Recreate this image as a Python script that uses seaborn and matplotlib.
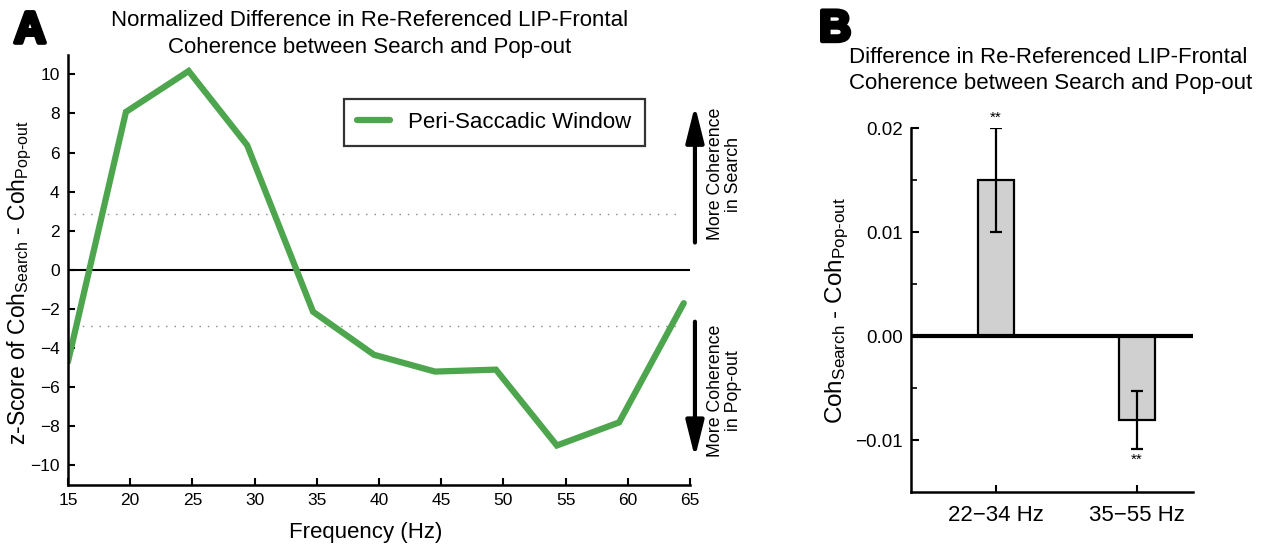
import numpy as np
import pandas as pd
import matplotlib
matplotlib.use("Agg")
import matplotlib.pyplot as plt
import matplotlib.patheffects as pe
import seaborn as sns

# ---- data ----
freq = [15.0, 19.66, 24.7, 29.4, 34.7, 39.6, 44.5, 49.4, 54.3, 59.3, 64.5]
zscore = [-4.7, 8.08, 10.17, 6.38, -2.14, -4.34, -5.2, -5.1, -8.98, -7.8, -1.7]
sig_level = 2.86
xticks_a = [15, 20, 25, 30, 35, 40, 45, 50, 55, 60, 65]
yticks_a = [-10, -8, -6, -4, -2, 0, 2, 4, 6, 8, 10]

bands = ["22\u221234 Hz", "35\u221255 Hz"]
band_diff = [0.0150, -0.0081]
band_err = [0.0050, 0.0028]
yticks_b = [-0.01, 0.0, 0.01, 0.02]
yticklabels_b = ["\u22120.01", "0.00", "0.01", "0.02"]

sns.set_style("ticks")
plt.rcParams["font.family"] = ["Liberation Sans", "DejaVu Sans"]
plt.rcParams["mathtext.fontset"] = "custom"
plt.rcParams["mathtext.rm"] = "Liberation Sans"
plt.rcParams["mathtext.it"] = "Liberation Sans"
plt.rcParams["xtick.direction"] = "in"
plt.rcParams["ytick.direction"] = "in"
for key in ["text.color", "axes.labelcolor", "xtick.color", "ytick.color",
            "axes.edgecolor"]:
    plt.rcParams[key] = "black"

fig = plt.figure(figsize=(12.66, 5.48), dpi=100)
axA = fig.add_axes([0.0537, 0.115, 0.4913, 0.785])
axB = fig.add_axes([0.7196, 0.102, 0.2227, 0.664])

green = "#4DA64D"
heavy = [pe.withStroke(linewidth=3, foreground="black")]

# ---- Panel A ----
dfA = pd.DataFrame({"freq": freq, "z": zscore})
sns.lineplot(data=dfA, x="freq", y="z", ax=axA, color=green, lw=4.5,
             label="Peri-Saccadic Window", solid_joinstyle="miter")
axA.axhline(0, color="black", lw=1.5, zorder=1)
axA.hlines([sig_level, -sig_level], 15.5, 64.3, colors="#888888",
           linestyles=(0, (1, 5)), lw=1.0, zorder=1)
axA.set_xlim(15, 65)
axA.set_ylim(-11, 11)
axA.set_xticks(xticks_a)
axA.set_yticks(yticks_a)
axA.set_yticklabels([str(v).replace("-", "\u2212") for v in yticks_a])
axA.tick_params(labelsize=12.5, length=5, width=1.5, pad=6)
sns.despine(ax=axA)
for s in ["left", "bottom"]:
    axA.spines[s].set_linewidth(1.8)
axA.set_xlabel("Frequency (Hz)", fontsize=16)
axA.xaxis.set_label_coords(0.479, -0.085)
axA.set_ylabel(r"z-Score of Coh$_{\mathrm{Search}}$ - Coh$_{\mathrm{Pop\text{-}out}}$",
               fontsize=16.5)
axA.yaxis.set_label_coords(-0.054, 0.47)
fig.text(0.2923, 0.938, "Normalized Difference in Re-Referenced LIP-Frontal\n"
         "Coherence between Search and Pop-out", fontsize=16,
         linespacing=1.42, ha="center", va="center")
leg = axA.legend(loc="upper left", bbox_to_anchor=(0.443, 0.898), fontsize=16,
                 frameon=True, fancybox=False, edgecolor="black",
                 handlelength=1.5, handletextpad=0.8, borderpad=0.6,
                 borderaxespad=0)
leg.get_frame().set_linewidth(1.6)

arrow_style = "-|>,head_width=0.55,head_length=2.2"
axA.annotate("", xy=(65.4, 8.4), xytext=(65.4, 1.4),
             arrowprops=dict(arrowstyle=arrow_style, lw=3, color="black",
                             shrinkA=0, shrinkB=0), annotation_clip=False)
axA.annotate("", xy=(65.4, -9.6), xytext=(65.4, -2.65),
             arrowprops=dict(arrowstyle=arrow_style, lw=3, color="black",
                             shrinkA=0, shrinkB=0), annotation_clip=False)
axA.text(67.8, 4.9, "More Coherence\nin Search", rotation=90, ha="center",
         va="center", fontsize=12.8, clip_on=False, linespacing=1.1)
axA.text(67.8, -6.2, "More Coherence\nin Pop-out", rotation=90, ha="center",
         va="center", fontsize=12.8, clip_on=False, linespacing=1.1)
fig.text(0.011, 0.922, "A", fontsize=32, fontweight="bold", path_effects=heavy)

# ---- Panel B ----
dfB = pd.DataFrame({"band": bands, "diff": band_diff})
sns.barplot(data=dfB, x="band", y="diff", ax=axB, color="#D0D0D0",
            edgecolor="black", linewidth=1.6, width=0.255, errorbar=None,
            saturation=1)
axB.errorbar(range(len(bands)), band_diff, yerr=band_err, fmt="none",
             ecolor="black", elinewidth=1.6, capsize=4, capthick=1.6)
for i, (v, e) in enumerate(zip(band_diff, band_err)):
    if v > 0:
        axB.text(i, v + e + 0.0003, "**", ha="center", va="bottom", fontsize=11)
    else:
        axB.text(i, v - e - 0.0003, "**", ha="center", va="top", fontsize=11)
axB.axhline(0, color="black", lw=3, zorder=3)
axB.set_xlim(-0.6, 1.4)
axB.set_ylim(-0.015, 0.02)
axB.set_yticks(yticks_b)
axB.set_yticklabels(yticklabels_b)
axB.set_yticks([-0.005, 0.005, 0.015], minor=True)
axB.tick_params(axis="y", which="minor", length=4, width=1.2)
axB.tick_params(axis="y", labelsize=13.5, length=6, width=1.5, pad=6)
axB.tick_params(axis="x", labelsize=16, length=5, width=1.5, pad=9)
sns.despine(ax=axB)
for s in ["left", "bottom"]:
    axB.spines[s].set_linewidth(1.8)
axB.set_xlabel("")
axB.set_ylabel(r"Coh$_{\mathrm{Search}}$ - Coh$_{\mathrm{Pop\text{-}out}}$",
               fontsize=17.5)
axB.yaxis.set_label_coords(-0.213, 0.5)
fig.text(0.671, 0.8715, "Difference in Re-Referenced LIP-Frontal\n"
         "Coherence between Search and Pop-out", fontsize=16,
         linespacing=1.32, ha="left", va="center")
fig.text(0.647, 0.925, "B", fontsize=32, fontweight="bold", path_effects=heavy)

fig.savefig("out.png", dpi=100)
